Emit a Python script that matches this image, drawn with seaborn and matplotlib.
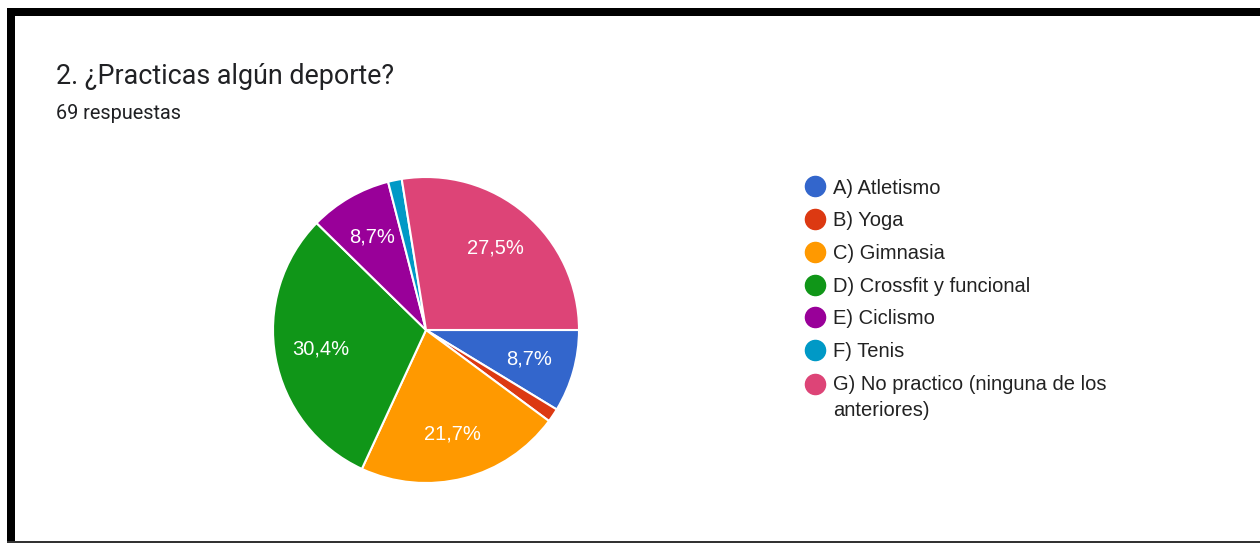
import matplotlib
matplotlib.use("Agg")
import matplotlib.pyplot as plt
from matplotlib.lines import Line2D
from matplotlib.patches import Rectangle
from matplotlib.legend_handler import HandlerLine2D
import seaborn as sns

categories = ["A) Atletismo", "B) Yoga", "C) Gimnasia", "D) Crossfit y funcional",
              "E) Ciclismo", "F) Tenis", "G) No practico (ninguna de los\nanteriores)"]
counts = [6, 1, 15, 21, 6, 1, 19]
colors = ["#3366cc", "#dc3912", "#ff9900", "#109618", "#990099", "#0099c6", "#dd4477"]
title = "2. ¿Practicas algún deporte?"
subtitle = "69 respuestas"

sns.set_theme(style="white")
plt.rcParams["font.family"] = ["Roboto", "DejaVu Sans"]
ARIAL = ["Liberation Sans", "DejaVu Sans"]

W, H = 1260, 543
fig = plt.figure(figsize=(W / 100, H / 100), dpi=100)
fig.patch.set_facecolor("white")

# frame decorations (screenshot borders)
fig.add_artist(Rectangle((7 / W, 1 - 16 / H), 1 - 7 / W, 8 / H, transform=fig.transFigure,
                         facecolor="black", edgecolor="none"))
fig.add_artist(Rectangle((7 / W, 2 / H), 8 / W, 1 - 18 / H, transform=fig.transFigure,
                         facecolor="black", edgecolor="none"))
fig.add_artist(Rectangle((7 / W, 0.5 / H), 1 - 7 / W, 2 / H, transform=fig.transFigure,
                         facecolor="#333333", edgecolor="none"))

fig.text(56 / W, 1 - 84 / H, title, fontsize=19.4, color="#202124", va="baseline")
fig.text(56 / W, 1 - 119 / H, subtitle, fontsize=14.3, color="#202124", va="baseline")

ax = fig.add_axes([273 / W, (H - 483) / H, 306 / W, 306 / H])


def fmt(p):
    return f"{p:.1f}%".replace(".", ",") if p > 5 else ""


wedges, texts, autotexts = ax.pie(
    counts, colors=colors, startangle=0, counterclock=False,
    autopct=fmt, pctdistance=0.7,
    wedgeprops=dict(edgecolor="white", linewidth=1.5),
    textprops=dict(color="white", fontsize=14.5, family=ARIAL),
)
ax.set_xlim(-1.0, 1.0)
ax.set_ylim(-1.0, 1.0)
ax.set_aspect("equal")
ax.axis("off")


class TopAlignedHandler(HandlerLine2D):
    def __init__(self, shift, **kw):
        super().__init__(**kw)
        self.shift = shift

    def create_artists(self, *args, **kwargs):
        arts = super().create_artists(*args, **kwargs)
        for a in arts:
            yd = a.get_ydata()
            a.set_ydata([y + self.shift for y in yd])
        return arts


handles = [Line2D([0], [0], marker="o", linestyle="none", markersize=14.5,
                  markerfacecolor=c, markeredgecolor=c) for c in colors]
leg = fig.legend(handles, categories, loc="upper left",
                 bbox_to_anchor=(804.5 / W, 1 - 178.5 / H), frameon=False,
                 prop=dict(family=ARIAL, size=14.5), labelspacing=0.68,
                 handletextpad=0.44, handlelength=1.0, borderaxespad=0, borderpad=0,
                 handler_map={handles[-1]: TopAlignedHandler(9.7)})
for t in leg.get_texts():
    t.set_color("#222222")
    t.set_linespacing(1.51)

fig.savefig("out.png", dpi=100, facecolor="white")
